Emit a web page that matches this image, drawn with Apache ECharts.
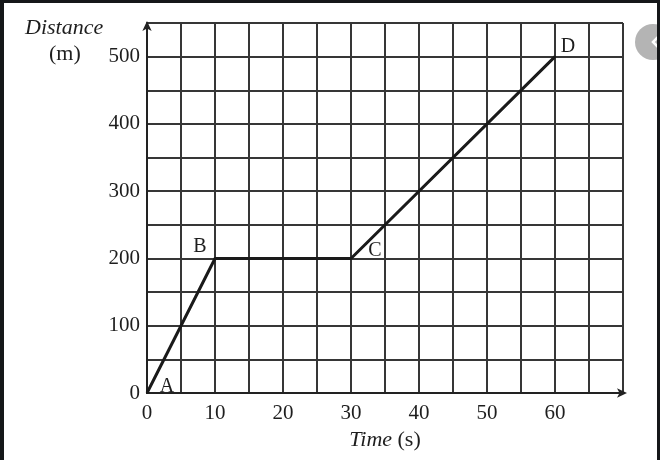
<!DOCTYPE html>
<html>
<head>
<meta charset="utf-8">
<script src="https://cdn.jsdelivr.net/npm/echarts@6/dist/echarts.min.js"></script>
<style>
html,body{margin:0;padding:0;background:#fff;}
#chart{width:660px;height:460px;}
</style>
</head>
<body>
<div id="chart"></div>
<script>
// Data
const timeValues = [0, 10, 30, 60];
const distanceValues = [0, 200, 200, 500];
const pointNames = ['A', 'B', 'C', 'D'];
const xTickLabels = [0, 10, 20, 30, 40, 50, 60];
const yTickLabels = [0, 100, 200, 300, 400, 500];
const xAxisTitle = 'Time';
const xAxisUnit = '(s)';
const yAxisTitle = 'Distance';
const yAxisUnit = '(m)';

const serif = '"Liberation Serif", "DejaVu Serif", serif';
const gridColor = '#363636';
const textColor = '#1e1e1e';
const labelOffsets = {A: [20, -6], B: [-15, -12], C: [24, -8], D: [13, -10]};

const chart = echarts.init(document.getElementById('chart'), null, {renderer: 'canvas'});

const seriesData = timeValues.map((t, i) => ({
  value: [t, distanceValues[i]],
  label: {
    show: true,
    formatter: pointNames[i],
    position: 'inside',
    offset: labelOffsets[pointNames[i]],
    fontFamily: serif,
    fontSize: 20,
    color: textColor
  }
}));

const option = {
  backgroundColor: '#ffffff',
  animation: false,
  grid: {left: 147, right: 37, top: 23, bottom: 67, containLabel: false},
  xAxis: {
    type: 'value',
    min: 0, max: 70, interval: 5,
    name: '{i|' + xAxisTitle + '} ' + xAxisUnit,
    nameLocation: 'middle',
    nameGap: 34,
    nameTextStyle: {
      fontFamily: serif, fontSize: 22, color: textColor,
      rich: {i: {fontFamily: serif, fontSize: 22, fontStyle: 'italic', color: textColor}}
    },
    axisLine: {show: true, lineStyle: {color: '#222', width: 2}, symbol: ['none', 'arrow'], symbolSize: [7, 10], symbolOffset: [0, 4]},
    axisTick: {show: false},
    axisLabel: {
      margin: 10,
      fontFamily: serif, fontSize: 21, color: textColor,
      formatter: v => xTickLabels.includes(v) ? String(v) : ''
    },
    splitLine: {show: true, lineStyle: {color: gridColor, width: 2}}
  },
  yAxis: {
    type: 'value',
    min: 0, max: 550, interval: 50,
    axisLine: {show: true, lineStyle: {color: '#222', width: 2}, symbol: ['none', 'arrow'], symbolSize: [7, 10], symbolOffset: [0, 2]},
    axisTick: {show: false},
    axisLabel: {
      margin: 7,
      fontFamily: serif, fontSize: 21, color: textColor,
      formatter: v => yTickLabels.includes(v) ? String(v) : ''
    },
    splitLine: {show: true, lineStyle: {color: gridColor, width: 2}}
  },
  series: [{
    type: 'line',
    data: seriesData,
    symbol: 'circle',
    symbolSize: 2,
    showSymbol: true,
    itemStyle: {color: '#1a1a1a'},
    lineStyle: {color: '#1a1a1a', width: 3},
    z: 5
  }],
  graphic: [
    {type: 'text', left: 25, top: 17, style: {text: yAxisTitle, font: 'italic 22px ' + serif, fill: textColor}},
    {type: 'text', left: 49, top: 43, style: {text: yAxisUnit, font: '22px ' + serif, fill: textColor}},
    // screenshot frame
    {type: 'circle', shape: {cx: 653, cy: 42, r: 18}, style: {fill: '#b4b4b4'}, z: 100},
    {type: 'polyline', shape: {points: [[658, 37], [653, 42], [658, 47]]}, style: {stroke: '#fff', lineWidth: 2.5, fill: null}, z: 101},
    {type: 'rect', shape: {x: 0, y: 0, width: 660, height: 3}, style: {fill: '#151719'}, z: 102},
    {type: 'rect', shape: {x: 0, y: 0, width: 4, height: 460}, style: {fill: '#151719'}, z: 102},
    {type: 'rect', shape: {x: 657, y: 0, width: 3, height: 460}, style: {fill: '#151719'}, z: 102}
  ]
};

chart.setOption(option);
</script>
</body>
</html>
